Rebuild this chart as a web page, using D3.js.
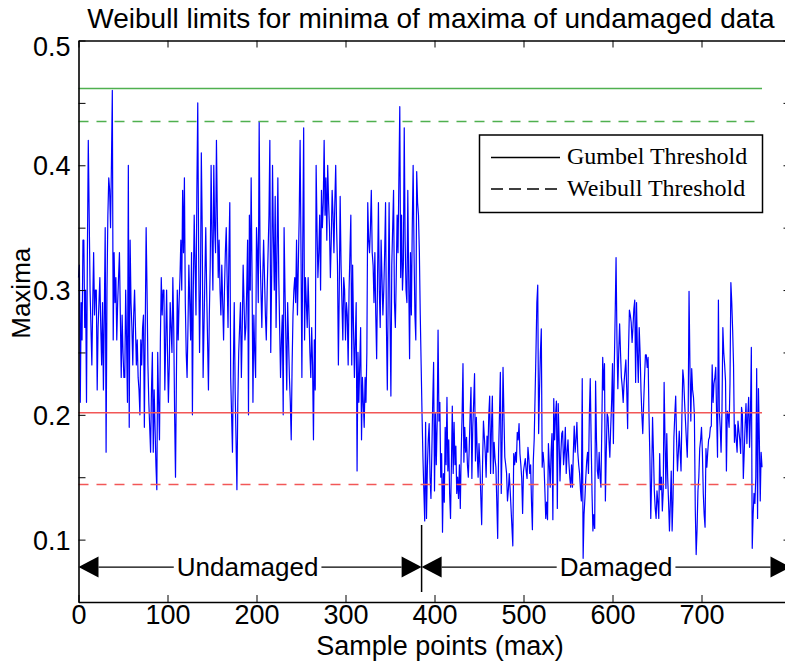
<!DOCTYPE html>
<html>
<head>
<meta charset="utf-8">
<script src="https://cdn.jsdelivr.net/npm/d3@7/dist/d3.min.js"></script>
<style>
  html, body { margin: 0; padding: 0; background: #ffffff; }
  svg { display: block; }
</style>
</head>
<body>
<svg id="chart" width="785" height="665"></svg>
<script>
// ---------------- data ----------------
const undamagedMaxima = [
  0.31,0.32,0.21,0.29,0.26,0.34,0.34,0.27,0.30,0.21,0.33,0.42,0.36,0.30,0.27,0.24,0.29,0.33,0.28,0.30,
  0.30,0.22,0.27,0.29,0.31,0.27,0.24,0.29,0.22,0.28,0.35,0.17,0.30,0.36,0.39,0.38,0.35,0.40,0.46,0.26,
  0.33,0.29,0.31,0.26,0.29,0.31,0.33,0.28,0.23,0.28,0.25,0.23,0.23,0.30,0.26,0.21,0.40,0.19,0.34,0.29,
  0.27,0.24,0.28,0.30,0.27,0.24,0.26,0.23,0.22,0.20,0.26,0.24,0.27,0.28,0.19,0.27,0.35,0.30,0.24,0.21,
  0.19,0.17,0.22,0.25,0.17,0.22,0.19,0.16,0.14,0.25,0.21,0.18,0.26,0.31,0.28,0.30,0.30,0.22,0.26,0.30,
  0.25,0.21,0.24,0.29,0.27,0.25,0.31,0.27,0.20,0.15,0.23,0.30,0.26,0.29,0.31,0.34,0.30,0.38,0.33,0.39,
  0.29,0.25,0.23,0.27,0.32,0.29,0.26,0.33,0.20,0.30,0.36,0.32,0.28,0.38,0.45,0.33,0.25,0.30,0.41,0.35,
  0.23,0.27,0.31,0.35,0.30,0.26,0.22,0.28,0.32,0.40,0.34,0.30,0.40,0.35,0.33,0.42,0.36,0.31,0.34,0.30,
  0.28,0.32,0.29,0.26,0.30,0.33,0.35,0.31,0.27,0.33,0.37,0.23,0.20,0.17,0.24,0.29,0.22,0.18,0.14,0.21,
  0.25,0.27,0.29,0.23,0.27,0.32,0.29,0.26,0.27,0.30,0.34,0.20,0.36,0.30,0.39,0.31,0.21,0.28,0.25,0.23,
  0.35,0.33,0.29,0.435,0.33,0.30,0.27,0.31,0.34,0.31,0.28,0.26,0.30,0.33,0.36,0.42,0.25,0.31,0.40,0.34,
  0.30,0.375,0.27,0.33,0.39,0.31,0.27,0.23,0.26,0.28,0.20,0.35,0.30,0.26,0.22,0.29,0.26,0.23,0.21,0.18,
  0.24,0.28,0.30,0.31,0.29,0.34,0.28,0.32,0.36,0.42,0.33,0.23,0.34,0.43,0.26,0.31,0.29,0.27,0.31,0.28,
  0.25,0.23,0.27,0.24,0.18,0.26,0.22,0.40,0.35,0.31,0.33,0.36,0.30,0.38,0.35,0.37,0.42,0.36,0.39,0.34,
  0.40,0.37,0.35,0.31,0.34,0.38,0.36,0.33,0.37,0.40,0.35,0.32,0.24,0.30,0.375,0.32,0.29,0.26,0.31,0.30,
  0.26,0.29,0.28,0.24,0.30,0.33,0.36,0.24,0.32,0.27,0.23,0.26,0.29,0.155,0.25,0.21,0.24,0.27,0.18,0.23,
  0.21,0.19,0.23,0.21,0.25,0.37,0.34,0.33,0.35,0.38,0.33,0.32,0.29,0.33,0.28,0.245,0.31,0.37,0.30,0.27,
  0.34,0.31,0.28,0.30,0.33,0.37,0.27,0.22,0.30,0.37,0.28,0.215,0.32,0.35,0.38,0.29,0.27,0.31,0.36,0.33,
  0.39,0.447,0.31,0.36,0.30,0.32,0.43,0.34,0.30,0.29,0.38,0.31,0.245,0.33,0.28,0.35,0.40,0.33,0.28,0.26,
  0.395,0.37,0.36,0.33,0.28,0.24,0.20
];
const damagedMaxima = [
  0.166,0.14,0.115,0.194,0.117,0.158,0.18,0.193,0.15,0.133,0.17,0.21,0.242,0.139,0.201,0.16,0.194,0.268,0.195,0.21,
  0.15,0.169,0.106,0.153,0.13,0.19,0.16,0.214,0.155,0.18,0.137,0.117,0.16,0.207,0.153,0.194,0.16,0.175,0.137,0.15,
  0.133,0.16,0.125,0.17,0.2,0.241,0.162,0.19,0.17,0.182,0.16,0.15,0.173,0.2,0.222,0.149,0.19,0.21,0.233,0.163,
  0.198,0.17,0.15,0.177,0.16,0.135,0.112,0.16,0.195,0.182,0.17,0.15,0.183,0.17,0.2,0.215,0.153,0.19,0.215,0.153,
  0.178,0.165,0.158,0.13,0.101,0.17,0.2,0.234,0.137,0.18,0.238,0.2,0.166,0.16,0.153,0.131,0.14,0.153,0.14,0.125,
  0.11,0.095,0.169,0.16,0.17,0.162,0.186,0.18,0.193,0.169,0.16,0.149,0.121,0.155,0.16,0.165,0.155,0.149,0.174,0.165,
  0.153,0.16,0.13,0.108,0.163,0.18,0.215,0.25,0.29,0.304,0.185,0.22,0.25,0.269,0.158,0.17,0.161,0.14,0.117,0.13,
  0.116,0.177,0.16,0.142,0.17,0.185,0.116,0.213,0.18,0.2,0.211,0.125,0.209,0.18,0.147,0.17,0.185,0.187,0.16,0.17,
  0.19,0.153,0.17,0.18,0.162,0.15,0.142,0.16,0.142,0.17,0.191,0.17,0.18,0.194,0.17,0.16,0.153,0.14,0.131,0.229,
  0.085,0.12,0.133,0.15,0.163,0.17,0.153,0.2,0.229,0.18,0.137,0.107,0.12,0.109,0.227,0.18,0.155,0.149,0.17,0.15,
  0.142,0.19,0.246,0.22,0.241,0.131,0.17,0.201,0.198,0.18,0.166,0.19,0.21,0.241,0.177,0.238,0.28,0.326,0.26,0.221,
  0.25,0.273,0.25,0.23,0.222,0.21,0.226,0.235,0.244,0.22,0.189,0.252,0.284,0.28,0.274,0.258,0.27,0.285,0.292,0.226,
  0.29,0.25,0.226,0.27,0.25,0.22,0.2,0.185,0.209,0.23,0.248,0.248,0.238,0.246,0.2,0.166,0.117,0.15,0.198,0.17,
  0.139,0.125,0.117,0.139,0.13,0.117,0.169,0.14,0.15,0.123,0.139,0.226,0.18,0.141,0.185,0.15,0.13,0.107,0.13,0.155,
  0.107,0.133,0.182,0.2,0.215,0.18,0.155,0.17,0.187,0.17,0.155,0.2,0.236,0.228,0.21,0.195,0.18,0.166,0.198,0.299,
  0.24,0.195,0.237,0.22,0.214,0.2,0.125,0.088,0.108,0.139,0.15,0.173,0.18,0.19,0.17,0.137,0.12,0.11,0.173,0.158,
  0.17,0.18,0.182,0.19,0.191,0.24,0.21,0.225,0.23,0.238,0.2,0.166,0.292,0.203,0.19,0.17,0.203,0.27,0.25,0.24,
  0.227,0.155,0.203,0.2,0.19,0.225,0.306,0.29,0.268,0.24,0.178,0.192,0.18,0.17,0.195,0.187,0.18,0.169,0.206,0.2,
  0.149,0.17,0.192,0.209,0.177,0.2,0.214,0.174,0.2,0.254,0.093,0.12,0.137,0.129,0.15,0.237,0.117,0.221,0.18,0.131,
  0.17,0.158
];
const maxima = undamagedMaxima.concat(damagedMaxima);

// threshold levels: [lower limit, upper limit]
const gumbelThreshold  = [0.2017, 0.4615];
const weibullThreshold = [0.1442, 0.4351];

const xTicks = [0, 100, 200, 300, 400, 500, 600, 700];
const yTicks = [0.05, 0.10, 0.15, 0.20, 0.25, 0.30, 0.35, 0.40, 0.45, 0.50];
const yTickLabels = ["", "0.1", "", "0.2", "", "0.3", "", "0.4", "", "0.5"];

const damageOnset = 385.5;           // sample index where damage begins
const regionLabels = ["Undamaged", "Damaged"];
const legendLabels = ["Gumbel Threshold", "Weibull Threshold"];

const titleText  = "Weibull limits for minima of maxima of undamaged data";
const xLabelText = "Sample points (max)";
const yLabelText = "Maxima";

// ---------------- layout ----------------
const W = 785, H = 665;
const plotLeft = 78.5, plotRight = 790.5, plotTop = 40.5, plotBottom = 602;
const sans = "'Liberation Sans', Arial, Helvetica, sans-serif";
const serif = "'Liberation Serif', 'Times New Roman', serif";

const svg = d3.select("#chart");
svg.append("rect").attr("width", W).attr("height", H).attr("fill", "#fff");

const x = d3.scaleLinear().domain([0, 800]).range([plotLeft, plotRight]);
const y = d3.scaleLinear().domain([0.05, 0.5]).range([plotBottom, plotTop]);

const plot = svg.append("g");

// threshold lines (extend over sample range)
const lastIdx = maxima.length - 1;
const thrLines = [
  {v: gumbelThreshold[1],  c: "#4fb04f", dash: null},
  {v: weibullThreshold[1], c: "#4fb04f", dash: "10,8"},
  {v: gumbelThreshold[0],  c: "#f25757", dash: null},
  {v: weibullThreshold[0], c: "#f25757", dash: "10,8"}
];

// blue data line
const line = d3.line().x((d, i) => x(i)).y(d => y(d));
plot.append("path")
  .datum(maxima)
  .attr("d", line)
  .attr("fill", "none")
  .attr("stroke", "#0000ff")
  .attr("stroke-width", 1.2)
  .attr("stroke-linejoin", "round");

plot.selectAll("line.thr").data(thrLines).enter().append("line")
  .attr("class", "thr")
  .attr("x1", x(0)).attr("x2", x(lastIdx))
  .attr("y1", d => y(d.v)).attr("y2", d => y(d.v))
  .attr("stroke", d => d.c)
  .attr("stroke-width", 1.5)
  .attr("stroke-dasharray", d => d.dash);

// ---------------- axes ----------------
function styleAxis(g) {
  g.select(".domain").attr("stroke", "#000").attr("stroke-width", 1.6);
  g.selectAll(".tick line").attr("stroke", "#000").attr("stroke-width", 1);
  g.selectAll(".tick text").attr("fill", "#000").attr("font-family", sans).attr("font-size", 27);
}
const axL = svg.append("g").attr("transform", `translate(${plotLeft},0)`)
  .call(d3.axisLeft(y).tickValues(yTicks).tickSizeInner(-7).tickSizeOuter(0).tickPadding(8)
    .tickFormat((d, i) => yTickLabels[i]));
styleAxis(axL);
axL.selectAll(".tick text").attr("dy", (d, i) => i === yTicks.length - 1 ? "0.55em" : "0.35em");

const axR = svg.append("g").attr("transform", `translate(${plotRight},0)`)
  .call(d3.axisRight(y).tickValues(yTicks).tickSizeInner(-7).tickSizeOuter(0).tickFormat(""));
styleAxis(axR);

const axB = svg.append("g").attr("transform", `translate(0,${plotBottom})`)
  .call(d3.axisBottom(x).tickValues(xTicks).tickSizeInner(-7).tickSizeOuter(0).tickPadding(3)
    .tickFormat(d3.format("d")));
styleAxis(axB);

const axT = svg.append("g").attr("transform", `translate(0,${plotTop})`)
  .call(d3.axisTop(x).tickValues(xTicks).tickSizeInner(-7).tickSizeOuter(0).tickFormat(""));
styleAxis(axT);

// ---------------- titles ----------------
svg.append("text").attr("x", 431).attr("y", 28)
  .attr("text-anchor", "middle").attr("font-family", sans).attr("font-size", 28)
  .text(titleText);
svg.append("text").attr("x", 440).attr("y", 655)
  .attr("text-anchor", "middle").attr("font-family", sans).attr("font-size", 27)
  .text(xLabelText);
svg.append("text").attr("transform", `translate(30,${(plotTop + plotBottom) / 2 - 28}) rotate(-90)`)
  .attr("text-anchor", "middle").attr("font-family", sans).attr("font-size", 26)
  .text(yLabelText);

// ---------------- region annotations ----------------
const annY = y(0.078);
const regions = [
  {label: regionLabels[0], from: 0, to: damageOnset, mid: 190},
  {label: regionLabels[1], from: damageOnset, to: 800, mid: 604}
];
const ann = svg.append("g");
const headLen = 20, headHalf = 10.5;
regions.forEach(r => {
  const x0 = x(r.from), x1 = x(r.to);
  ann.append("line").attr("x1", x0 + headLen).attr("x2", x1 - headLen)
    .attr("y1", annY).attr("y2", annY).attr("stroke", "#000").attr("stroke-width", 1.2);
  ann.append("path")
    .attr("d", `M${x0},${annY} L${x0 + headLen},${annY - headHalf} L${x0 + headLen},${annY + headHalf} Z`)
    .attr("fill", "#000");
  ann.append("path")
    .attr("d", `M${x1},${annY} L${x1 - headLen},${annY - headHalf} L${x1 - headLen},${annY + headHalf} Z`)
    .attr("fill", "#000");
  const t = ann.append("text").attr("x", x(r.mid)).attr("y", annY + 9)
    .attr("text-anchor", "middle").attr("font-family", sans).attr("font-size", 26)
    .text(r.label);
  const bb = t.node().getBBox();
  ann.insert("rect", "text:last-of-type")
    .attr("x", bb.x - 3).attr("y", annY - 3).attr("width", bb.width + 6).attr("height", 6)
    .attr("fill", "#fff");
});
// separator
ann.append("line").attr("x1", x(damageOnset)).attr("x2", x(damageOnset))
  .attr("y1", 525).attr("y2", 592).attr("stroke", "#000").attr("stroke-width", 1.5);

// ---------------- legend ----------------
const leg = svg.append("g");
leg.append("rect").attr("x", 479.5).attr("y", 135).attr("width", 283).attr("height", 77.5)
  .attr("fill", "#fff").attr("stroke", "#000").attr("stroke-width", 1.5);
legendLabels.forEach((lab, i) => {
  const ly = 157.5 + i * 31.5;
  leg.append("line").attr("x1", 491).attr("x2", 560).attr("y1", ly).attr("y2", ly)
    .attr("stroke", "#000").attr("stroke-width", 1.4)
    .attr("stroke-dasharray", i === 1 ? "12,6" : null);
  leg.append("text").attr("x", 567).attr("y", ly + 6.5)
    .attr("font-family", serif).attr("font-size", 24).text(lab);
});
</script>
</body>
</html>
